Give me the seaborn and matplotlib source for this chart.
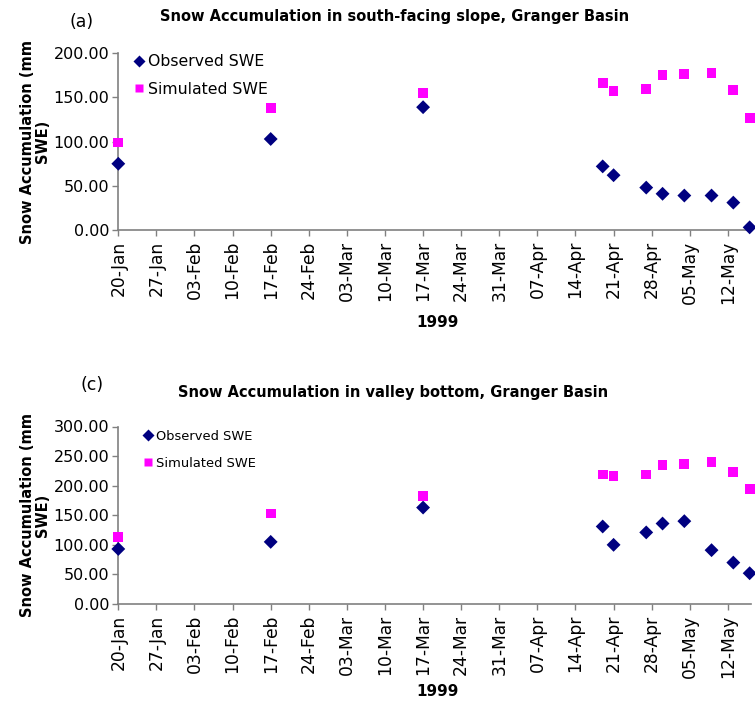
import pandas as pd
import numpy as np

import seaborn as sns
import matplotlib.pyplot as plt
import matplotlib.dates as mdates
from matplotlib.ticker import MultipleLocator, FormatStrFormatter


# sample dates (1999)
dates = ["1999-01-20", "1999-02-17", "1999-03-17", "1999-04-19", "1999-04-21",
         "1999-04-27", "1999-04-30", "1999-05-04", "1999-05-09", "1999-05-13",
         "1999-05-16"]

# (a) south-facing slope
obs_south = [75, 103, 139, 72, 62, 48, 41, 39, 39, 31, 3]
sim_south = [99, 138, 155, 166, 157, 160, 175, 177, 178, 158, 127]

# (c) valley bottom
obs_valley = [93, 105, 163, 131, 100, 121, 136, 140, 91, 70, 52]
sim_valley = [113, 153, 183, 219, 216, 219, 235, 237, 240, 223, 195]

tick_dates = pd.date_range("1999-01-20", "1999-05-12", freq="7D")


def make_df(obs, sim):
    d = pd.to_datetime(dates)
    a = pd.DataFrame({"Date": d, "SWE": obs, "Series": "Observed SWE"})
    b = pd.DataFrame({"Date": d, "SWE": sim, "Series": "Simulated SWE"})
    return pd.concat([a, b], ignore_index=True)


sns.set_style("white")
plt.rcParams['font.family'] = ['DejaVu Sans']
plt.rcParams['text.color'] = 'black'
plt.rcParams['axes.labelcolor'] = 'black'
plt.rcParams['xtick.labelcolor'] = 'black'
plt.rcParams['ytick.labelcolor'] = 'black'

fig = plt.figure(figsize=(7.55, 7.02), dpi=100)
W, H = 755, 702

panels = [
    dict(df=make_df(obs_south, sim_south), top=53.3, bot=230, ymax=200,
         title="Snow Accumulation in south-facing slope, Granger Basin",
         title_xy=(395, 17), tag="(a)", tag_xy=(82, 22),
         xlab_y=322, legfs=11.3, leg_top=54, leg_x=0.02, legsp=0.8),
    dict(df=make_df(obs_valley, sim_valley), top=426.5, bot=604, ymax=300,
         title="Snow Accumulation in valley bottom, Granger Basin",
         title_xy=(393, 392), tag="(c)", tag_xy=(92, 385),
         xlab_y=692, legfs=9.4, leg_top=430, leg_x=0.037, legsp=1.05),
]

palette = {"Observed SWE": "#000080", "Simulated SWE": "#FF00FF"}
markers = {"Observed SWE": "D", "Simulated SWE": "s"}

for p in panels:
    ax = fig.add_axes([118.3 / W, 1 - p["bot"] / H, (751 - 118.3) / W, (p["bot"] - p["top"]) / H])
    sns.scatterplot(data=p["df"], x="Date", y="SWE", hue="Series", style="Series",
                    palette=palette, markers=markers, s=50, edgecolor="none",
                    ax=ax, clip_on=False, zorder=3)

    ax.set_xlim(pd.Timestamp("1999-01-20"), pd.Timestamp("1999-05-16 06:00"))
    ax.set_ylim(0, p["ymax"])
    ax.xaxis.set_major_locator(plt.FixedLocator(mdates.date2num(tick_dates)))
    ax.xaxis.set_major_formatter(mdates.DateFormatter("%d-%b"))
    ax.yaxis.set_major_locator(MultipleLocator(50))
    ax.yaxis.set_major_formatter(FormatStrFormatter("%.2f"))
    ax.tick_params(axis="x", labelrotation=90, labelsize=12.3, length=4.5,
                   width=1, color="#808080", direction="out", bottom=True, pad=3)
    ax.tick_params(axis="y", labelsize=11.5, length=4.5, width=1,
                   color="#808080", direction="out", left=True, pad=2)

    for side in ["top", "right"]:
        ax.spines[side].set_visible(False)
    for side in ["left", "bottom"]:
        ax.spines[side].set_color("#808080")
        ax.spines[side].set_linewidth(1.2)

    ax.set_xlabel("")
    ax.set_ylabel("Snow Accumulation (mm\nSWE)", fontsize=10.5, fontweight="bold",
                  linespacing=1.0)
    ax.yaxis.set_label_coords(-0.108, 0.5)

    leg = ax.legend(loc="upper left",
                    bbox_to_anchor=(p["leg_x"], 1 - (p["leg_top"] - p["top"]) / (p["bot"] - p["top"])),
                    frameon=False, fontsize=p["legfs"], handletextpad=0.1,
                    handlelength=1.0, borderpad=0, borderaxespad=0,
                    labelspacing=p["legsp"], markerscale=0.9)

    fig.text(p["title_xy"][0] / W, 1 - p["title_xy"][1] / H, p["title"],
             ha="center", va="center", fontsize=10.5, fontweight="bold")
    fig.text(p["tag_xy"][0] / W, 1 - p["tag_xy"][1] / H, p["tag"],
             ha="center", va="center", fontsize=12.5)
    fig.text(437 / W, 1 - p["xlab_y"] / H, "1999", ha="center", va="center",
             fontsize=11, fontweight="bold")

fig.savefig("out.png", dpi=100)
